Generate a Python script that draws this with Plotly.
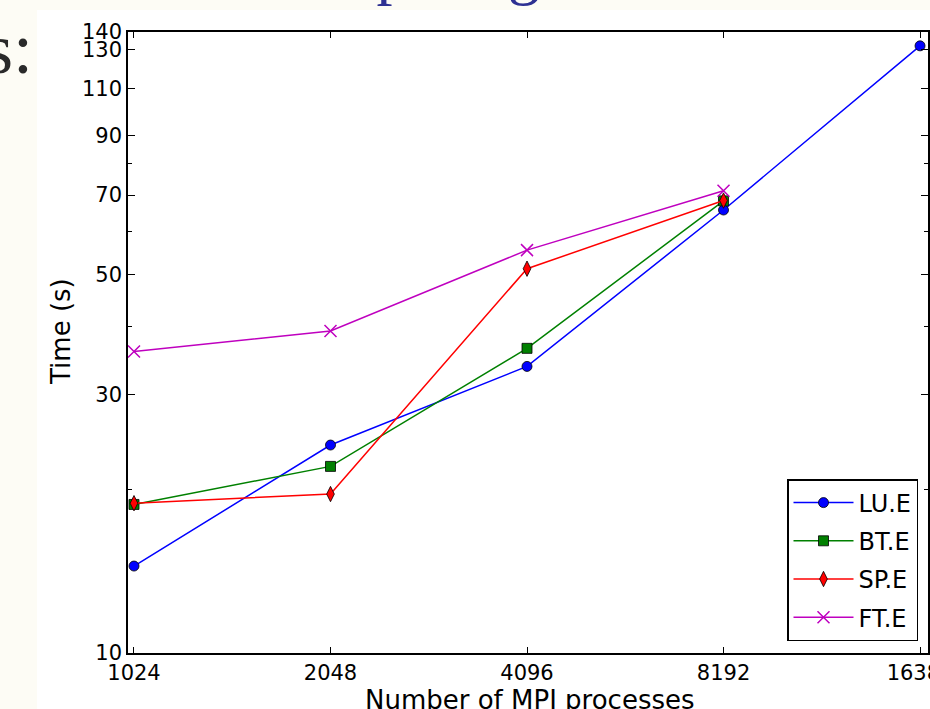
import plotly.graph_objects as go
import math

procs = [1024, 2048, 4096, 8192, 16384]
x_labels = ["1024", "2048", "4096", "8192", "16384"]

lu_e = [14.47, 24.2, 33.8, 65.7, 132.0]
bt_e = [18.8, 22.1, 36.5, 68.3]
sp_e = [18.9, 19.65, 51.2, 68.4]
ft_e = [36.0, 39.3, 55.4, 71.3]

y_major = [10, 30, 50, 70, 90, 110, 130, 140]
y_minor = [20, 40, 60, 80]

series = [
    ("LU.E", procs, lu_e, "#0000ff", "circle", 10, "black"),
    ("BT.E", procs[:4], bt_e, "#008000", "square", 10, "black"),
    ("SP.E", procs[:4], sp_e, "#ff0000", "diamond-tall", 11, "black"),
    ("FT.E", procs[:4], ft_e, "#bf00bf", "x-thin", 12, "#bf00bf"),
]

fig = go.Figure()
for i, (name, xs, ys, color, sym, size, edge) in enumerate(series):
    fig.add_trace(go.Scatter(
        x=xs, y=ys, name=name, mode="lines+markers",
        legendgroup=f"g{i}", cliponaxis=False,
        line=dict(color=color, width=1.5),
        marker=dict(symbol=sym, size=size, color=color,
                    line=dict(color=edge, width=1.5 if sym == "x-thin" else 0.8)),
    ))

W, H = 930, 709
L, R, T, B = 128, 2, 32, 56
pw, ph = W - L - R, H - T - B

def px2x(px):
    return (px - L) / pw

def px2y(py):
    return (H - B - py) / ph

fig.update_layout(
    width=W, height=H,
    margin=dict(l=L, r=R, t=T, b=B, autoexpand=False),
    paper_bgcolor="#fdfcf5",
    plot_bgcolor="white",
    font=dict(family="DejaVu Sans", size=21, color="black"),
    showlegend=True,
    legend=dict(
        x=px2x(918), y=px2y(641), xanchor="right", yanchor="bottom",
        bordercolor="black", borderwidth=1.5, bgcolor="white",
        font=dict(family="DejaVu Sans", size=24, color="black"),
        tracegroupgap=4, traceorder="grouped", itemwidth=60,
    ),
    xaxis=dict(
        type="log",
        range=[math.log10(1024) - 0.00917, math.log10(16384) + 0.0122],
        tickmode="array", tickvals=procs, ticktext=x_labels,
        ticks="inside", ticklen=6, tickwidth=1, tickcolor="black",
        showline=True, linecolor="black", linewidth=1.5, mirror="allticks",
        showgrid=False, zeroline=False, automargin=False,
        ticklabeloverflow="allow",
        tickfont=dict(size=21),
    ),
    yaxis=dict(
        type="log",
        range=[1, math.log10(140)],
        tickmode="array", tickvals=y_major, ticktext=[str(v) for v in y_major],
        ticks="inside", ticklen=7, tickwidth=1, tickcolor="black",
        minor=dict(tickmode="array", tickvals=y_minor, ticks="inside",
                   ticklen=4, tickcolor="black", showgrid=False),
        showline=True, linecolor="black", linewidth=1.5, mirror="allticks",
        showgrid=False, zeroline=False, automargin=False,
        tickfont=dict(size=21),
    ),
    shapes=[dict(type="rect", xref="paper", yref="paper",
                 x0=px2x(37), x1=px2x(930), y0=px2y(709), y1=px2y(10),
                 fillcolor="white", line=dict(width=0), layer="below")],
    annotations=[
        dict(text="Number of MPI processes", xref="paper", yref="paper",
             x=px2x(530), y=px2y(683), xanchor="center", yanchor="top",
             showarrow=False, font=dict(family="DejaVu Sans", size=26, color="black")),
        dict(text="Time (s)", xref="paper", yref="paper", textangle=-90,
             x=px2x(61), y=px2y(332), xanchor="center", yanchor="middle",
             showarrow=False, font=dict(family="DejaVu Sans", size=26, color="black")),
        dict(text="Comparing", xref="paper", yref="paper",
             x=px2x(250), y=px2y(8), xanchor="left", yanchor="bottom",
             showarrow=False,
             font=dict(family="Liberation Serif", size=64, color="#2e3192")),
        dict(text="Results:", xref="paper", yref="paper",
             x=px2x(35), y=px2y(91), xanchor="right", yanchor="bottom",
             showarrow=False,
             font=dict(family="Liberation Serif", size=72, color="#2a2a2a")),
    ],
)

fig.write_html(
    "out.html",
    config={"displayModeBar": False},
    post_script="document.body.style.margin='0';document.body.style.overflow='hidden';",
)
